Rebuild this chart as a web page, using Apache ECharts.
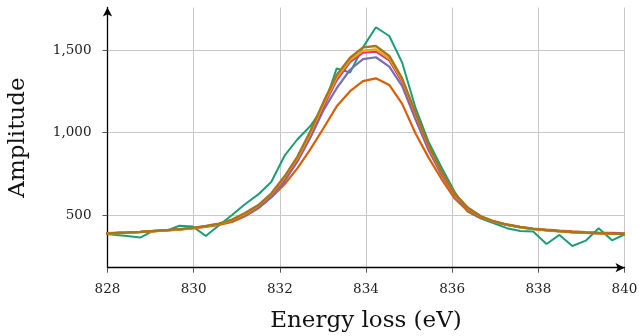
<!DOCTYPE html>
<html>
<head>
<meta charset="utf-8">
<script src="https://cdn.jsdelivr.net/npm/echarts@6/dist/echarts.min.js"></script>
<style>html,body{margin:0;padding:0;background:#fff}#c{width:639px;height:336px}</style>
</head>
<body>
<div id="c"></div>
<script>
const xVals = [827.85, 828.15, 828.46, 828.76, 829.07, 829.37, 829.67, 829.98, 830.28, 830.59, 830.89, 831.19, 831.50, 831.80, 832.11, 832.41, 832.71, 833.02, 833.32, 833.63, 833.93, 834.23, 834.54, 834.84, 835.15, 835.45, 835.75, 836.06, 836.36, 836.67, 836.97, 837.27, 837.58, 837.88, 838.19, 838.49, 838.79, 839.10, 839.40, 839.71, 840.01];
const measured = [388, 380, 372, 363, 405, 405, 435, 430, 373, 438, 500, 565, 625, 700, 860, 960, 1040, 1160, 1390, 1365, 1518, 1640, 1587, 1425, 1150, 945, 790, 640, 520, 478, 450, 420, 403, 400, 324, 379, 312, 344, 420, 346, 383];
const fitOrange = [388, 392, 395, 398, 402, 406, 411, 418, 427, 440, 458, 492, 540, 607, 687, 785, 900, 1030, 1160, 1252, 1313, 1330, 1290, 1175, 995, 850, 720, 600, 525, 482, 458, 442, 428, 418, 411, 405, 400, 396, 393, 391, 389];
const fitPurple = [386, 390, 393, 397, 402, 407, 413, 420, 430, 445, 466, 500, 546, 608, 705, 825, 970, 1140, 1270, 1382, 1447, 1458, 1401, 1283, 1080, 895, 745, 620, 538, 488, 458, 440, 425, 415, 407, 401, 396, 392, 389, 387, 385];
const fitPink = [386, 390, 393, 397, 402, 407, 413, 421, 432, 447, 469, 507, 553, 620, 720, 836, 985, 1160, 1318, 1428, 1485, 1492, 1438, 1306, 1100, 908, 752, 622, 540, 490, 460, 440, 426, 415, 407, 401, 396, 392, 389, 387, 385];
const fitYellow = [385, 389, 392, 396, 401, 406, 412, 420, 431, 446, 469, 508, 556, 625, 728, 845, 997, 1175, 1335, 1440, 1498, 1506, 1450, 1318, 1112, 918, 760, 627, 542, 490, 460, 440, 425, 414, 406, 400, 395, 391, 388, 385, 383];
const fitBrown = [385, 390, 393, 397, 403, 408, 414, 422, 433, 448, 472, 512, 560, 630, 735, 855, 1010, 1190, 1350, 1455, 1518, 1526, 1466, 1330, 1120, 925, 765, 630, 545, 492, 462, 442, 427, 416, 408, 402, 397, 393, 390, 387, 385];
const yTicks = [500, 1000, 1500];
const xTicks = [828, 830, 832, 834, 836, 838, 840];

const seriesDefs = [
  {name: 'measured', data: measured, color: '#1b9e77', w: 2},
  {name: 'fit1', data: fitOrange, color: '#d95f02', w: 2.2},
  {name: 'fit2', data: fitPurple, color: '#7570b3', w: 2.2},
  {name: 'fit3', data: fitPink, color: '#e7298a', w: 2},
  {name: 'fit4', data: fitYellow, color: '#e6ab02', w: 2.2},
  {name: 'fit5', data: fitBrown, color: '#a6761d', w: 2.4}
];

const font = 'DejaVu Serif';
const chart = echarts.init(document.getElementById('c'), null, {renderer: 'canvas'});
chart.setOption({
  animation: false,
  backgroundColor: '#ffffff',
  grid: {left: 107.5, top: 7.5, width: 517, height: 260.2, outerBoundsMode: 'none'},
  xAxis: {
    type: 'value', min: 828, max: 840, interval: 2,
    name: 'Energy loss (eV)', nameLocation: 'middle', nameGap: 42,
    nameTextStyle: {fontFamily: font, fontSize: 23, color: '#111'},
    axisLine: {show: true, onZero: false, symbol: ['none', 'arrow'], symbolSize: [7, 9], lineStyle: {color: '#000', width: 1.3}},
    axisTick: {show: true, inside: false, length: 5, lineStyle: {color: '#555', width: 1}},
    axisLabel: {fontFamily: font, fontSize: 13.5, color: '#222', margin: 15, showMinLabel: true, showMaxLabel: true},
    splitLine: {show: true, lineStyle: {color: '#c8c8c8', width: 1}}
  },
  yAxis: {
    type: 'value', min: 180, max: 1760,
    name: 'Amplitude', nameLocation: 'middle', nameGap: 78, nameRotate: 90,
    nameTextStyle: {fontFamily: font, fontSize: 23, color: '#111'},
    axisLine: {show: true, onZero: false, symbol: ['none', 'arrow'], symbolSize: [7, 9], lineStyle: {color: '#000', width: 1.3}},
    axisTick: {show: true, inside: false, length: 5, customValues: yTicks, lineStyle: {color: '#555', width: 1}},
    axisLabel: {fontFamily: font, fontSize: 13.5, color: '#222', margin: 16, customValues: yTicks,
      formatter: v => Number(v).toLocaleString('en-US')},
    splitLine: {show: true, lineStyle: {color: '#c8c8c8', width: 1}}
  },
  series: seriesDefs.map(s => ({
    name: s.name, type: 'line', showSymbol: false, symbol: 'none',
    data: xVals.map((x, i) => [x, s.data[i]]),
    lineStyle: {color: s.color, width: s.w}, itemStyle: {color: s.color},
    clip: true, z: 2
  }))
});
</script>
</body>
</html>
